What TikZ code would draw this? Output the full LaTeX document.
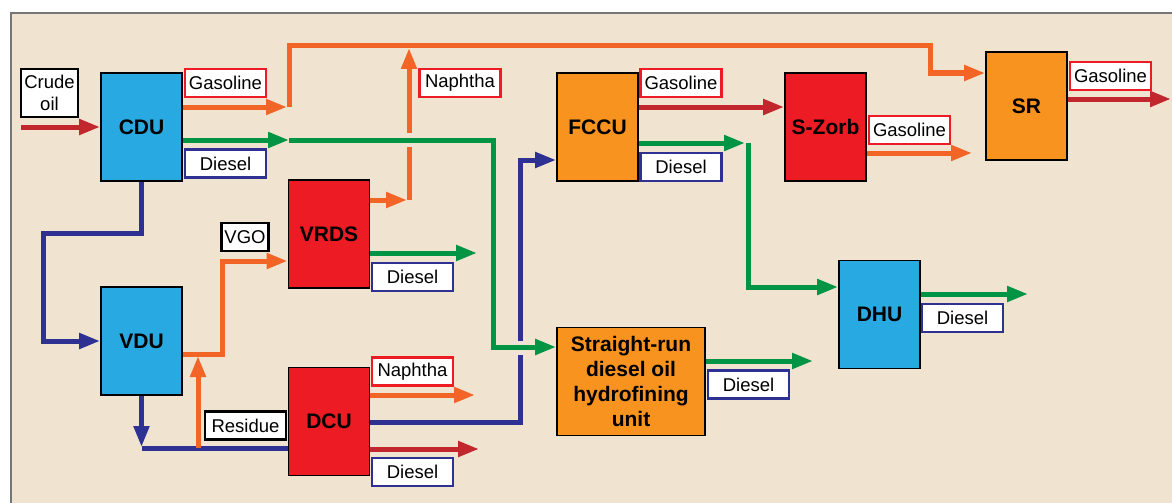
\documentclass[tikz,border=0pt]{standalone}
\usepackage{fontspec}
\setmainfont{Liberation Sans}
\usetikzlibrary{arrows.meta}
\definecolor{panel}{HTML}{F0E4D1}
\definecolor{boxblue}{HTML}{29A9E1}
\definecolor{boxred}{HTML}{ED1C24}
\definecolor{boxorange}{HTML}{F7931E}
\definecolor{lorange}{HTML}{F26527}
\definecolor{ldred}{HTML}{C1272D}
\definecolor{lgreen}{HTML}{009444}
\definecolor{lblue}{HTML}{2E3192}
\definecolor{frame}{HTML}{767676}
\tikzset{
  unit/.style={draw=black, line width=1.8pt, minimum width=81pt, minimum height=108pt,
    inner sep=0pt, font=\fontsize{21}{25}\selectfont\bfseries, align=center},
  ublue/.style={unit, fill=boxblue},
  ured/.style={unit, fill=boxred},
  uorange/.style={unit, fill=boxorange},
  tag/.style={fill=white, line width=2.2pt, minimum width=81pt, minimum height=28pt,
    inner sep=0pt, font=\fontsize{18.5}{21}\selectfont, align=center},
  tred/.style={tag, draw=boxred},
  tblue/.style={tag, draw=lblue},
  tblack/.style={tag, draw=black},
  flow/.style={line width=5pt},
  arr/.style={flow, -{Triangle[length=21pt,width=15pt]}},
}
\begin{document}
\begin{tikzpicture}[x=1pt,y=-1pt]
\useasboundingbox (0,0) rectangle (1172,503);
\fill[white] (0,0) rectangle (1172,503);
\fill[panel] (11,13) rectangle (1172,503);
\draw[frame, line width=1.8pt] (11,503) -- (11,13) -- (1172,13);

% units
\node[ublue]   (cdu)   at (141.5,127)   {CDU};
\node[ublue]   (vdu)   at (141.5,341)   {VDU};
\node[ured]    (vrds)  at (329,234)     {VRDS};
\node[ured]    (dcu)   at (329,421.5)   {DCU};
\node[uorange] (fccu)  at (597.5,127)   {FCCU};
\node[ured]    (szorb) at (825.5,127)   {S-Zorb};
\node[uorange] (sr)    at (1026.5,106)  {SR};
\node[ublue]   (dhu)   at (879.5,314.5) {DHU};
\node[uorange, minimum width=148pt] (srdh) at (631,381.5)
  {Straight-run\\diesel oil\\hydrofining\\unit};

% tags
\node[tblack, minimum width=57pt, minimum height=48pt, font=\fontsize{18.5}{22}\selectfont] (lcrude) at (49.5,93) {Crude\\oil};
\node[tred]   (lgas1)  at (225.5,83)   {Gasoline};
\node[tblue]  (ldie1)  at (225.5,163.5) {Diesel};
\node[tblack, minimum width=47pt, minimum height=28pt] (lvgo) at (245,237) {VGO};
\node[tblack] (lres)   at (245.5,425.5) {Residue};
\node[tred]   (lnap1)  at (460,83)     {Naphtha};
\node[tblue]  (ldie2)  at (412.5,277)  {Diesel};
\node[tred]   (lnap2)  at (412.5,371.5) {Naphtha};
\node[tblue]  (ldie3)  at (412.5,472)  {Diesel};
\node[tred]   (lgas2)  at (681,83)     {Gasoline};
\node[tblue]  (ldie4)  at (681,167)    {Diesel};
\node[tred]   (lgas3)  at (909.5,130)  {Gasoline};
\node[tred]   (lgas4)  at (1110.5,76)  {Gasoline};
\node[tblue]  (ldie5)  at (748.5,384.5) {Diesel};
\node[tblue]  (ldie6)  at (962.5,318)  {Diesel};

% coordinates
\coordinate (crin)  at (21,127);
\coordinate (g1)    at (287,107);
\coordinate (g1b)   at (289,107);
\coordinate (topL)  at (289,46);
\coordinate (topR)  at (930,46);
\coordinate (srin)  at (930,73);
\coordinate (d1)    at (289,140);
\coordinate (d1c)   at (493,140);
\coordinate (d1d)   at (493,347);
\coordinate (n1)    at (407,200);
\coordinate (n1b)   at (409,200);
\coordinate (n1t)   at (409,48);
\coordinate (v1)    at (141.5,233);
\coordinate (v2)    at (43,233);
\coordinate (v3)    at (43,341);
\coordinate (vo)    at (222,354);
\coordinate (vo2)   at (222,261);
\coordinate (vb)    at (141.5,448);
\coordinate (rb)    at (198,448);
\coordinate (rt)    at (198,356);
\coordinate (dvr)   at (477,253);
\coordinate (dn)    at (475,395);
\coordinate (dd)    at (479,449);
\coordinate (db)    at (520,422);
\coordinate (dbt)   at (520,160);
\coordinate (fd)    at (745,143);
\coordinate (fd2)   at (748,143);
\coordinate (fd3)   at (748,287);
\coordinate (sz)    at (972,153);
\coordinate (sro)   at (1171,99);
\coordinate (dho)   at (1028,294);
\coordinate (sdo)   at (813,361);

% crude oil feed
\draw[arr, ldred] (crin) -- (cdu.west |- crin);
% CDU gasoline to SR
\draw[arr, lorange] (cdu.east |- g1) -- (g1);
\draw[arr, lorange] (g1b) -- (topL) -- (topR) -- (srin) -- (sr.west |- srin);
% CDU diesel to straight-run unit
\draw[arr, lgreen] (cdu.east |- d1) -- (d1);
\draw[arr, lgreen] (d1) -- (d1c) -- (d1d) -- (srdh.west |- d1d);
% VRDS naphtha (gap where the green line crosses)
\draw[arr, lorange] (vrds.east |- n1) -- (n1);
\draw[flow, lorange] (n1b) -- (409,147);
\draw[arr, lorange] (409,133) -- (n1t);
% CDU to VDU
\draw[arr, lblue] (cdu.south) -- (v1) -- (v2) -- (v3) -- (vdu.west |- v3);
% VDU VGO to VRDS
\draw[arr, lorange] (vdu.east |- vo) -- (vo) -- (vo2) -- (vrds.west |- vo2);
% VDU residue
\draw[arr, lblue] (vdu.south) -- (141.5,447);
\draw[flow, lblue] (vb) -- (dcu.west |- vb);
\draw[arr, lorange] (rb) -- (rt);
% VRDS diesel
\draw[arr, lgreen] (vrds.east |- dvr) -- (dvr);
% DCU outputs
\draw[arr, lorange] (dcu.east |- dn) -- (dn);
\draw[arr, ldred] (dcu.east |- dd) -- (dd);
\draw[flow, lblue] (dcu.east |- db) -- (db) -- (520,355);
\draw[arr, lblue] (520,341) -- (dbt) -- (fccu.west |- dbt);
% FCCU outputs
\draw[arr, ldred] (fccu.east |- 0,107) -- (szorb.west |- 0,107);
\draw[arr, lgreen] (fccu.east |- fd) -- (fd);
\draw[arr, lgreen] (fd2) -- (fd3) -- (dhu.west |- fd3);
% S-Zorb, SR, DHU, straight-run outputs
\draw[arr, lorange] (szorb.east |- sz) -- (sz);
\draw[arr, ldred] (sr.east |- sro) -- (sro);
\draw[arr, lgreen] (dhu.east |- dho) -- (dho);
\draw[arr, lgreen] (srdh.east |- sdo) -- (sdo);
\end{tikzpicture}
\end{document}
